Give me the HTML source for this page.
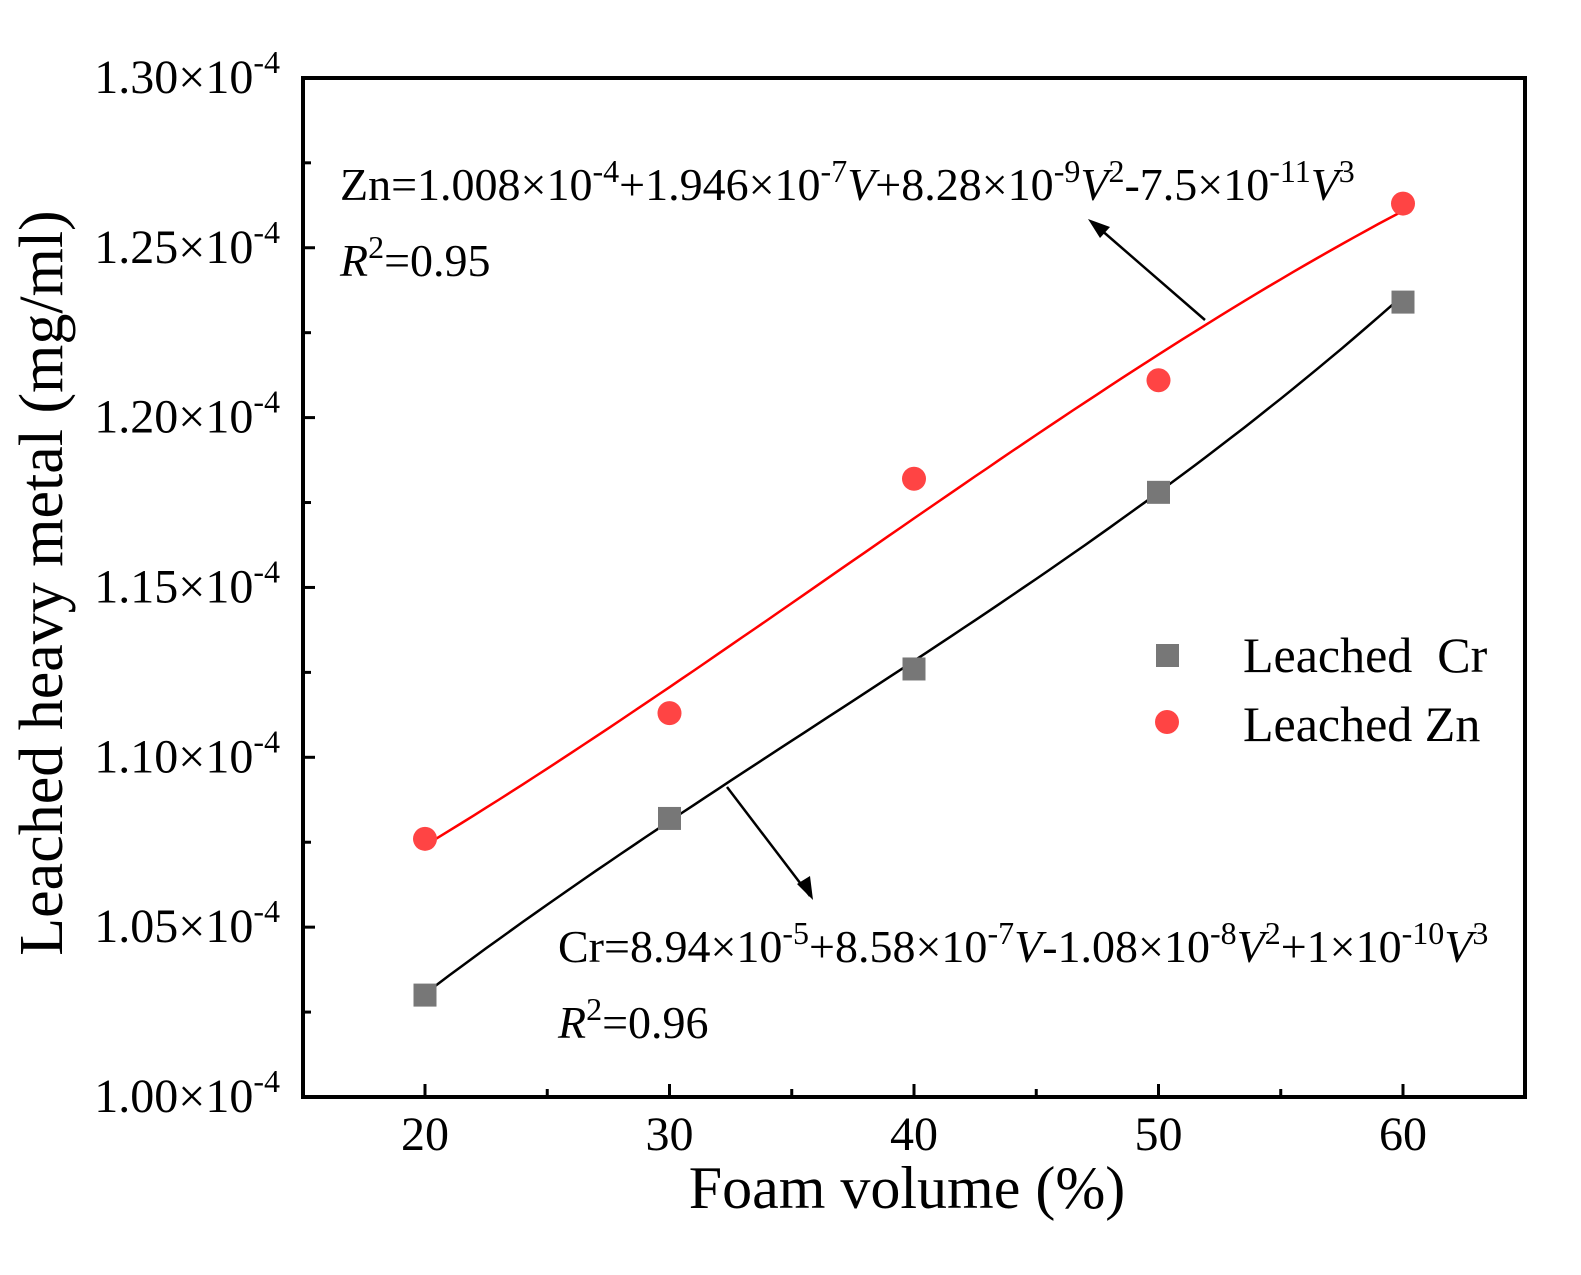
<!DOCTYPE html>
<html><head><meta charset="utf-8"><style>
html,body{margin:0;padding:0;background:#fff;}
svg text{font-family:"Liberation Serif",serif;fill:#000;}
</style></head><body>
<svg id="s" width="1581" height="1270" viewBox="0 0 1581 1270" xmlns="http://www.w3.org/2000/svg">
<g id="ticks" stroke="#000" stroke-width="3"></g>
<path id="zn" fill="none" stroke="#ff0000" stroke-width="2.5"/>
<path id="cr" fill="none" stroke="#000" stroke-width="2.5"/>
<g id="pts"></g>
<rect x="303" y="78" width="1222" height="1019" fill="none" stroke="#000" stroke-width="4"/>
<g font-size="48" text-anchor="end" id="yl"></g>
<g font-size="48" text-anchor="middle" id="xl"></g>
<text x="907" y="1208" font-size="60" text-anchor="middle">Foam volume (%)</text>
<text transform="translate(62,583) rotate(-90)" font-size="62" text-anchor="middle">Leached heavy metal (mg/ml)</text>
<rect x="1156" y="644" width="23" height="23" fill="#777"/>
<circle cx="1167" cy="722" r="12" fill="#ff4444"/>
<text x="1243" y="672" font-size="50" xml:space="preserve">Leached  Cr</text>
<text x="1243" y="741" font-size="50">Leached Zn</text>
<text x="340" y="200" font-size="46">Zn=1.008×10<tspan dy="-18" font-size="32">-4</tspan><tspan dy="18">+1.946×10</tspan><tspan dy="-18" font-size="32">-7</tspan><tspan dy="18" font-style="italic">V</tspan><tspan>+8.28×10</tspan><tspan dy="-18" font-size="32">-9</tspan><tspan dy="18" font-style="italic">V</tspan><tspan dy="-18" font-size="32">2</tspan><tspan dy="18">-7.5×10</tspan><tspan dy="-18" font-size="32">-11</tspan><tspan dy="18" font-style="italic">V</tspan><tspan dy="-18" font-size="32">3</tspan></text>
<text x="340" y="276" font-size="46"><tspan font-style="italic">R</tspan><tspan dy="-18" font-size="32">2</tspan><tspan dy="18">=0.95</tspan></text>
<text x="558" y="962" font-size="46">Cr=8.94×10<tspan dy="-18" font-size="32">-5</tspan><tspan dy="18">+8.58×10</tspan><tspan dy="-18" font-size="32">-7</tspan><tspan dy="18" font-style="italic">V</tspan><tspan>-1.08×10</tspan><tspan dy="-18" font-size="32">-8</tspan><tspan dy="18" font-style="italic">V</tspan><tspan dy="-18" font-size="32">2</tspan><tspan dy="18">+1×10</tspan><tspan dy="-18" font-size="32">-10</tspan><tspan dy="18" font-style="italic">V</tspan><tspan dy="-18" font-size="32">3</tspan></text>
<text x="558" y="1038" font-size="46"><tspan font-style="italic">R</tspan><tspan dy="-18" font-size="32">2</tspan><tspan dy="18">=0.96</tspan></text>
<line x1="1205" y1="320" x2="1092" y2="222" stroke="#000" stroke-width="2.5"/>
<polygon points="1088,219 1110,227 1100,238" fill="#000"/>
<line x1="727" y1="787" x2="810" y2="896" stroke="#000" stroke-width="2.5"/>
<polygon points="813,900 797,884 810,876" fill="#000"/>
</svg>
<script>
var X=v=>425+(v-20)*24.45, Y=v=>1097-(v-1.0)*3397;
var ns="http://www.w3.org/2000/svg";
function el(t,a,p){var e=document.createElementNS(ns,t);for(var k in a)e.setAttribute(k,a[k]);if(p)document.getElementById(p).appendChild(e);return e;}
var zn=V=>(1.008e-4+1.946e-7*V+8.28e-9*V*V-7.5e-11*V*V*V)*1e4;
var cr=V=>(8.94e-5+8.58e-7*V-1.08e-8*V*V+1e-10*V*V*V)*1e4;
function path(f){var d="";for(var V=20;V<=60.001;V+=0.5)d+=(V==20?"M":"L")+X(V).toFixed(1)+","+Y(f(V)).toFixed(1);return d;}
document.getElementById("zn").setAttribute("d",path(zn));
document.getElementById("cr").setAttribute("d",path(cr));
var C=[1.030,1.082,1.126,1.178,1.234],Z=[1.076,1.113,1.182,1.211,1.263];
for(var i=0;i<5;i++){var V=20+10*i;
el("rect",{x:X(V)-11.5,y:Y(C[i])-11.5,width:23,height:23,fill:"#777"},"pts");
el("circle",{cx:X(V),cy:Y(Z[i]),r:12,fill:"#ff4444"},"pts");}
for(var i=0;i<=12;i++){var v=1+i*0.025,y=Y(v);var len=i%2==0?12:8;
el("line",{x1:303,x2:303+len,y1:y,y2:y},"ticks");
if(i%2==0){var t=el("text",{x:280,y:y+15},"yl");t.innerHTML=v.toFixed(2)+"×10<tspan dy='-20' font-size='32'>-4</tspan>";}}
for(var V=15;V<=65;V+=5){var x=X(V);if(V>15&&V<65){el("line",{x1:x,x2:x,y1:1097,y2:V%10==0?1084:1089},"ticks");}
if(V%10==0&&V>=20&&V<=60){var t=el("text",{x:x,y:1150},"xl");t.textContent=V;}}
</script>
</body></html>
